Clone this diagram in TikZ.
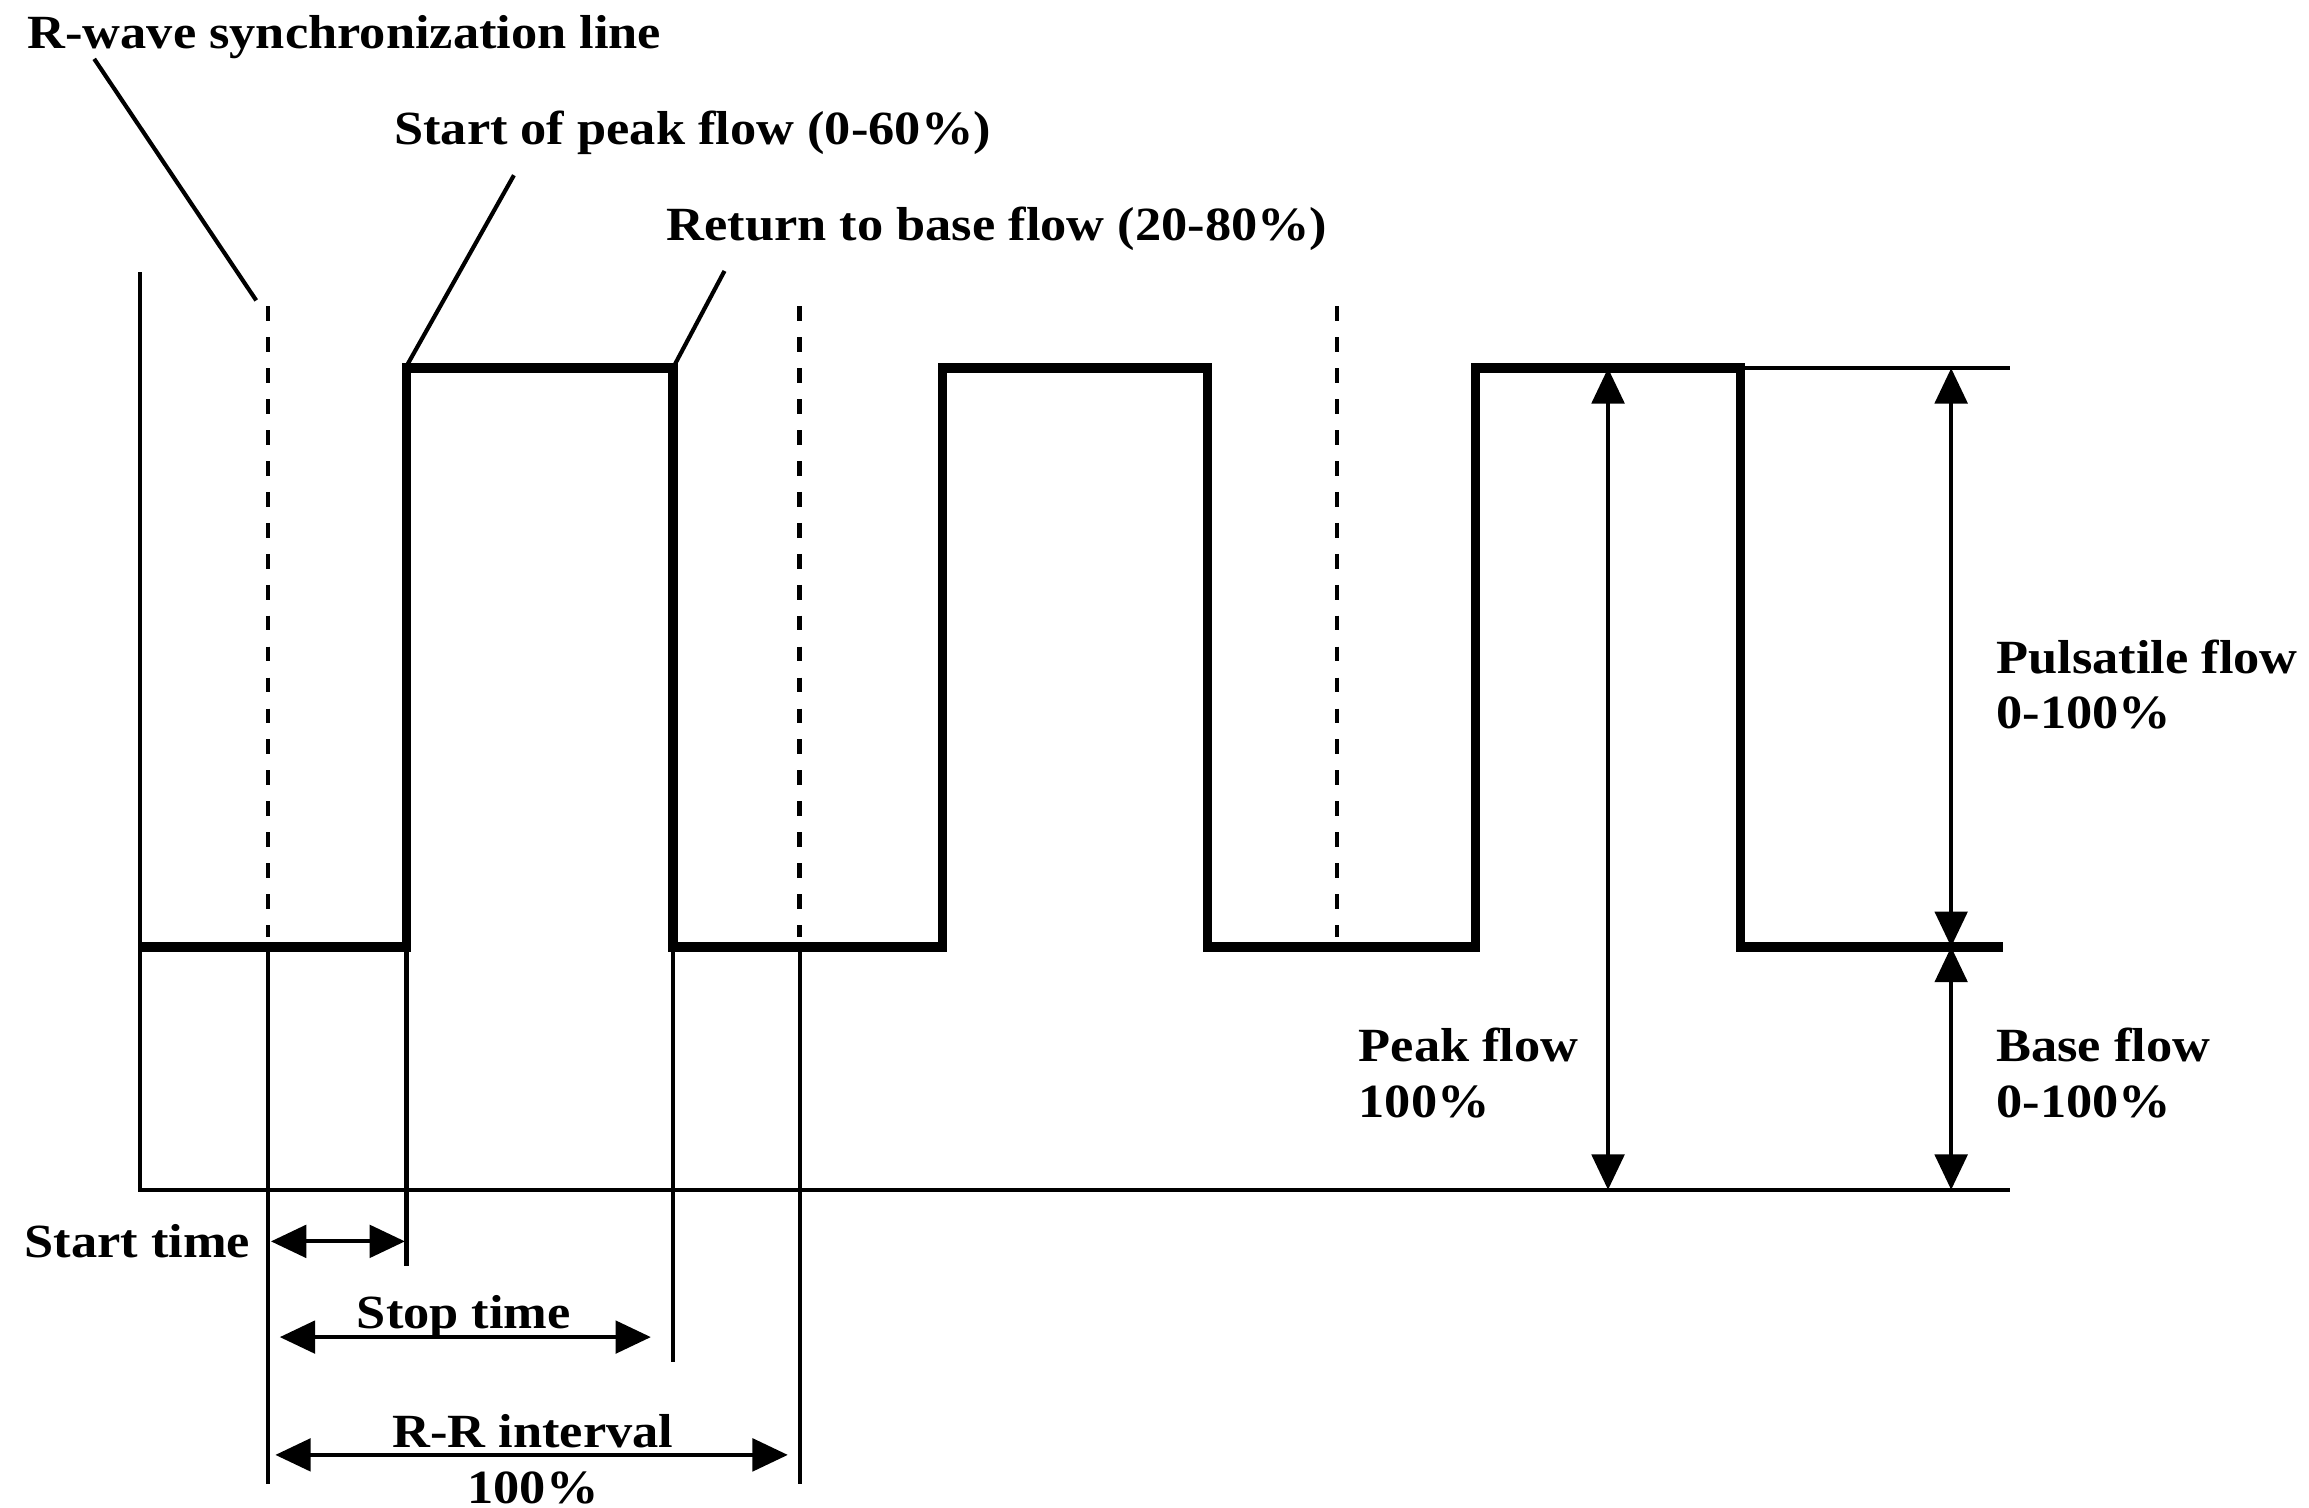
\documentclass[tikz,border=0pt]{standalone}
\usepackage{fontspec}
\setmainfont{Liberation Serif}[FakeStretch=1.1]
\usetikzlibrary{arrows.meta}

\begin{document}
\begin{tikzpicture}[x=0.01cm,y=-0.01cm,
    wave/.style={line width=1.8pt,line join=miter},
    guide/.style={line width=0.8pt},
    sync/.style={line width=0.9pt,dash pattern=on 1.0mm off 1.1mm},
    dim/.style={line width=0.8pt,{Triangle[length=2.4mm,width=2.2mm]}-{Triangle[length=2.4mm,width=2.2mm]}},
    lbl/.style={font=\bfseries\fontsize{9.2}{10.8}\selectfont,inner sep=0pt,anchor=base west}]
    \useasboundingbox (0,0) rectangle (1568,1024);
    \coordinate (top) at (95,185);
    \coordinate (o) at (95,808);
    \coordinate (end) at (1365,808);
    \draw[guide] (top) -- (o) -- (end);
    \foreach \x in {182,543,908}{
        \draw[sync] (\x,208) -- (\x,636);
      }
    \draw[wave] (95,643) -- (276,643) -- (276,250) -- (457,250) -- (457,643)
        -- (640,643) -- (640,250) -- (820,250) -- (820,643)
        -- (1002,643) -- (1002,250) -- (1182,250) -- (1182,643) -- (1360,643);
    \coordinate (sync1) at (182,643);
    \coordinate (rise1) at (276,643);
    \coordinate (fall1) at (457,643);
    \coordinate (sync2) at (543,643);
    \foreach \c/\l in {sync1/365,rise1/217,fall1/282,sync2/365}{
        \draw[guide] (\c) -- ++(0,\l);
      }
    \coordinate (dn3) at (1182,250);
    \coordinate (ref) at (1365,250);
    \draw[guide] (dn3) -- (ref);
    \coordinate (pktop) at (1092,250);
    \coordinate (pkbot) at (1092,808);
    \coordinate (pstop) at (1325,250);
    \coordinate (psmid) at (1325,643);
    \coordinate (psbot) at (1325,808);
    \draw[dim] (pktop) -- (pkbot);
    \draw[dim] (pstop) -- (psmid);
    \draw[dim] (psmid) -- (psbot);
    \coordinate (st1) at (184,843);
    \coordinate (st2) at (275,843);
    \coordinate (sp1) at (190,908);
    \coordinate (sp2) at (442,908);
    \coordinate (rr1) at (187,988);
    \coordinate (rr2) at (535,988);
    \draw[dim] (st1) -- (st2);
    \draw[dim] (sp1) -- (sp2);
    \draw[dim] (rr1) -- (rr2);
    \node[lbl] (rwave) at (18,33) {R-wave synchronization line};
    \node[lbl] (startpk) at (267,98) {Start of peak flow (0-60\%)};
    \node[lbl] (retbase) at (452,163) {Return to base flow (20-80\%)};
    \coordinate (lead1) at (64,40);
    \coordinate (tip1) at (174,204);
    \coordinate (lead2) at (349,119);
    \coordinate (tip2) at (277,247);
    \coordinate (lead3) at (492,184);
    \coordinate (tip3) at (458,248);
    \foreach \i in {1,2,3}{
        \draw[guide] (lead\i) -- (tip\i);
      }
    \node[lbl,align=left] (pulse) at (1355,495) {Pulsatile flow\\0-100\%};
    \node[lbl,align=left] (peak) at (922,759) {Peak flow\\100\%};
    \node[lbl,align=left] (base) at (1355,759) {Base flow\\0-100\%};
    \node[lbl] (sttime) at (16,854) {Start time};
    \node[lbl,anchor=base] (sptime) at (315,902) {Stop time};
    \node[lbl,anchor=base,align=center] (rrint) at (362,1021) {R-R interval\\100\%};
  \end{tikzpicture}
\end{document}
